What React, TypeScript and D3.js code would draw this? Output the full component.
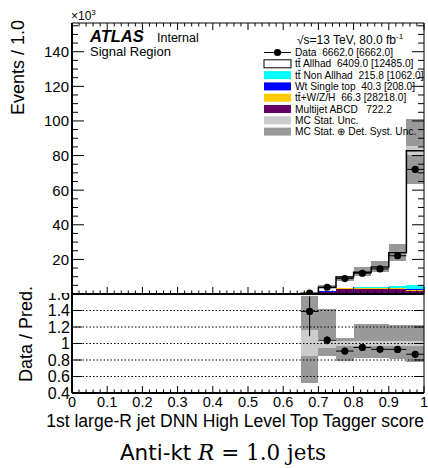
import React from "react"
import * as d3 from "d3"

// bin lower edges (width 0.05), values in units of 10^3 events
const binLow = [0, 0.05, 0.1, 0.15, 0.2, 0.25, 0.3, 0.35, 0.4, 0.45, 0.5, 0.55, 0.6, 0.65, 0.7, 0.75, 0.8, 0.85, 0.9, 0.95]
const binWidth = 0.05

const multijet = [0, 0, 0, 0, 0, 0, 0, 0, 0, 0, 0, 0, 0, 0.1, 1.3, 3.0, 3.1, 3.0, 2.9, 1.6]
const ttV = [0, 0, 0, 0, 0, 0, 0, 0, 0, 0, 0, 0, 0, 0, 0.1, 0.2, 0.3, 0.3, 0.4, 1.0]
const wtSingleTop = [0, 0, 0, 0, 0, 0, 0, 0, 0, 0, 0, 0, 0, 0, 0.05, 0.1, 0.1, 0.15, 0.2, 0.3]
const ttNonAllhad = [0, 0, 0, 0, 0, 0, 0, 0, 0, 0, 0, 0, 0, 0, 0.1, 0.2, 0.3, 0.4, 0.9, 2.2]
const ttAllhad = [0, 0, 0, 0, 0, 0, 0, 0, 0, 0, 0, 0, 0, 0.26, 2.2, 6.3, 8.8, 11.75, 19.4, 77.7]
const data = [0, 0, 0, 0, 0, 0, 0, 0, 0, 0, 0, 0, 0, 0.5, 3.9, 8.9, 12.0, 14.5, 22.1, 72.0]

// relative uncertainties
const systUp = [0, 0, 0, 0, 0, 0, 0, 0, 0, 0, 0, 0, 0, 0.58, 0.42, 0.07, 0.24, 0.24, 0.22, 0.22]
const systDn = [0, 0, 0, 0, 0, 0, 0, 0, 0, 0, 0, 0, 0, 0.48, 0.15, 0.21, 0.17, 0.17, 0.19, 0.23]
const statUp = [0, 0, 0, 0, 0, 0, 0, 0, 0, 0, 0, 0, 0, 0.16, 0.06, 0.03, 0.03, 0.03, 0.03, 0.03]
const statDn = [0, 0, 0, 0, 0, 0, 0, 0, 0, 0, 0, 0, 0, 0.15, 0.06, 0.03, 0.03, 0.03, 0.03, 0.03]
// data error on the ratio
const ratioErrUp = [0, 0, 0, 0, 0, 0, 0, 0, 0, 0, 0, 0, 0, 0.18, 0.05, 0.04, 0.04, 0.04, 0.04, 0.04]
const ratioErrDn = [0, 0, 0, 0, 0, 0, 0, 0, 0, 0, 0, 0, 0, 0.30, 0.05, 0.04, 0.04, 0.04, 0.04, 0.04]

const mainTicks = [20, 40, 60, 80, 100, 120, 140]
const ratioTicks = [0.4, 0.6, 0.8, 1, 1.2, 1.4, 1.6]
const ratioGrid = [0.6, 0.8, 1, 1.2, 1.4]
const xTicks = [0, 0.1, 0.2, 0.3, 0.4, 0.5, 0.6, 0.7, 0.8, 0.9, 1]

const legendRows = [
  { label: "Data  6662.0 [6662.0]", kind: "data" },
  { label: "tt\u0304 Allhad  6409.0 [12485.0]", kind: "box", fill: "#ffffff" },
  { label: "tt\u0304 Non Allhad  215.8 [1062.0]", kind: "fill", fill: "#00ffff" },
  { label: "Wt Single top  40.3 [208.0]", kind: "fill", fill: "#0000ff" },
  { label: "tt\u0304+W/Z/H  66.3 [28218.0]", kind: "fill", fill: "#ffcc00" },
  { label: "Multijet ABCD   722.2", kind: "fill", fill: "#660066" },
  { label: "MC Stat. Unc.", kind: "fill", fill: "#cccccc" },
  { label: "MC Stat. \u2295 Det. Syst. Unc.", kind: "fill", fill: "#999999" },
]

const FONT = "'Liberation Sans', Arial, Helvetica, sans-serif"

export default function App() {
  const W = 428
  const H = 468
  const x = d3.scaleLinear().domain([0, 1]).range([72, 424])
  const y = d3.scaleLinear().domain([0, 156.6]).range([294, 23])
  const yr = d3.scaleLinear().domain([0.4, 1.6]).range([393, 294])

  const keys = ["multijet", "ttV", "wt", "nonAllhad", "allhad"]
  const colors: Record<string, string> = {
    multijet: "#660066", ttV: "#ffcc00", wt: "#0000ff", nonAllhad: "#00ffff", allhad: "#ffffff",
  }
  const rows = binLow.map((lo, i) => ({
    lo, multijet: multijet[i], ttV: ttV[i], wt: wtSingleTop[i], nonAllhad: ttNonAllhad[i], allhad: ttAllhad[i],
  }))
  const stacked = d3.stack<any>().keys(keys)(rows)
  const total = rows.map(r => keys.reduce((s, k) => s + (r as any)[k], 0))

  const stepPts: [number, number][] = binLow.map((lo, i) => [lo, total[i]])
  stepPts.push([1, total[total.length - 1]])
  const stepLine = d3.line<[number, number]>()
    .x(d => x(d[0]))
    .y(d => y(d[1]))
    .curve(d3.curveStepAfter)

  const bw = x(binWidth) - x(0)
  const minorX = d3.range(0, 1.0001, 0.02)
  const minorY = d3.range(0, 156, 5)
  const filled = binLow.map((_, i) => i).filter(i => total[i] > 0)
  const dataIdx = binLow.map((_, i) => i).filter(i => data[i] > 0)

  return (
    <div style={{ position: "fixed", left: 0, top: 0 }}>
      <svg width={W} height={H} style={{ display: "block", background: "#fff" }} fontFamily={FONT}>
        <defs>
          <clipPath id="mainClip"><rect x={72} y={23} width={352} height={271} /></clipPath>
          <clipPath id="ratioClip"><rect x={72} y={294} width={352} height={99} /></clipPath>
          <clipPath id="lowLabelClip"><rect x={0} y={293} width={72} height={120} /></clipPath>
        </defs>

        {/* ---------- main panel ---------- */}
        <g clipPath="url(#mainClip)">
          {stacked.map(layer => (
            <g key={layer.key} fill={colors[layer.key]}>
              {layer.map((d, i) => d[1] - d[0] > 0 ? (
                <rect key={i} x={x(binLow[i])} width={bw} y={y(d[1])} height={y(d[0]) - y(d[1])} shapeRendering="crispEdges" />
              ) : null)}
            </g>
          ))}
          {filled.map(i => (
            <rect key={"s" + i} x={x(binLow[i])} width={bw} y={y(total[i] * (1 + systUp[i]))}
              height={y(total[i] * (1 - systDn[i])) - y(total[i] * (1 + systUp[i]))} fill="#999999" shapeRendering="crispEdges" />
          ))}
          {filled.map(i => (
            <rect key={"t" + i} x={x(binLow[i])} width={bw} y={y(total[i] * (1 + statUp[i]))}
              height={y(total[i] * (1 - statDn[i])) - y(total[i] * (1 + statUp[i]))} fill="#cccccc" shapeRendering="crispEdges" />
          ))}
          <path d={stepLine(stepPts) || ""} fill="none" stroke="#000" strokeWidth={1.5} />
          {dataIdx.map(i => (
            <g key={"d" + i}>
              <line x1={x(binLow[i])} x2={x(binLow[i] + binWidth)} y1={y(data[i])} y2={y(data[i])} stroke="#000" strokeWidth={1} />
              <circle cx={x(binLow[i] + binWidth / 2)} cy={y(data[i])} r={3.6} fill="#000" />
            </g>
          ))}
        </g>

        {/* main axes */}
        <g stroke="#000">
          <line x1={72} x2={424} y1={23} y2={23} strokeWidth={1} />
          <line x1={424} x2={424} y1={23} y2={294} strokeWidth={1} />
          <line x1={72} x2={72} y1={23} y2={294} strokeWidth={2} />
          <line x1={72} x2={424} y1={294} y2={294} strokeWidth={2} />
          {minorY.map(v => {
            const major = v % 20 === 0
            const len = major ? 12 : 6
            return (
              <g key={"yt" + v}>
                <line x1={72} x2={72 + len} y1={y(v)} y2={y(v)} strokeWidth={1} />
                <line x1={424} x2={424 - len} y1={y(v)} y2={y(v)} strokeWidth={1} />
              </g>
            )
          })}
          {minorX.map((v, j) => {
            const len = j % 5 === 0 ? 7 : 3.5
            return (
              <g key={"xt" + j}>
                <line x1={x(v)} x2={x(v)} y1={23} y2={23 + len} strokeWidth={1} />
                <line x1={x(v)} x2={x(v)} y1={294} y2={294 - len} strokeWidth={1} />
              </g>
            )
          })}
        </g>
        <g fontSize={15} textAnchor="end">
          {mainTicks.map(v => (
            <text key={v} x={69} y={y(v)} dy="0.36em">{v}</text>
          ))}
        </g>
        <text x={71} y={20} fontSize={12}>×10<tspan fontSize={8} dy={-5}>3</tspan></text>
        <text transform="translate(24,20) rotate(-90)" textAnchor="end" fontSize={18}>Events / 1.0</text>

        {/* labels */}
        <text x={90} y={42} fontSize={16.5} fontWeight="bold" fontStyle="italic">ATLAS</text>
        <text x={157} y={42} fontSize={12.5}>Internal</text>
        <text x={90} y={56} fontSize={13}>Signal Region</text>

        {/* legend */}
        <text x={297} y={44} fontSize={12}>√s=13 TeV, 80.0 fb<tspan fontSize={8} dy={-5}>-1</tspan></text>
        {legendRows.map((r, i) => {
          const cy = 52.5 + i * 11.3
          return (
            <g key={r.label}>
              {r.kind === "data" ? (
                <g>
                  <line x1={264} x2={291} y1={cy} y2={cy} stroke="#000" strokeWidth={1} />
                  <circle cx={277.5} cy={cy} r={3.6} fill="#000" />
                </g>
              ) : (
                <rect x={264} y={cy - 4} width={27} height={8} fill={r.fill}
                  stroke={r.kind === "box" ? "#000" : "none"} strokeWidth={1} />
              )}
              <text x={295} y={cy} dy="0.36em" fontSize={10.2} style={{ whiteSpace: "pre" }}>{r.label}</text>
            </g>
          )
        })}

        {/* ---------- ratio panel ---------- */}
        <g clipPath="url(#ratioClip)">
          {filled.map(i => (
            <rect key={"rs" + i} x={x(binLow[i])} width={bw} y={yr(1 + systUp[i])}
              height={yr(1 - systDn[i]) - yr(1 + systUp[i])} fill="#999999" shapeRendering="crispEdges" />
          ))}
          {filled.map(i => (
            <rect key={"rt" + i} x={x(binLow[i])} width={bw} y={yr(1 + statUp[i])}
              height={yr(1 - statDn[i]) - yr(1 + statUp[i])} fill="#cccccc" shapeRendering="crispEdges" />
          ))}
          {ratioGrid.map(v => (
            <line key={"g" + v} x1={72} x2={424} y1={yr(v)} y2={yr(v)} stroke="#000"
              strokeWidth={v === 1 ? 1.2 : 1} strokeDasharray="1.5,2" />
          ))}
          {dataIdx.map(i => {
            const r = data[i] / total[i]
            const cx = x(binLow[i] + binWidth / 2)
            return (
              <g key={"rd" + i} stroke="#000">
                <line x1={x(binLow[i])} x2={x(binLow[i] + binWidth)} y1={yr(r)} y2={yr(r)} strokeWidth={1} />
                <line x1={cx} x2={cx} y1={yr(r + ratioErrUp[i])} y2={yr(r - ratioErrDn[i])} strokeWidth={1} />
                <circle cx={cx} cy={yr(r)} r={3.6} fill="#000" stroke="none" />
              </g>
            )
          })}
        </g>
        <g stroke="#000">
          <line x1={72} x2={72} y1={294} y2={393} strokeWidth={2} />
          <line x1={424} x2={424} y1={294} y2={393} strokeWidth={1} />
          <line x1={72} x2={424} y1={393} y2={393} strokeWidth={2} />
          {ratioTicks.map(v => (
            <g key={"rt" + v}>
              <line x1={72} x2={82} y1={yr(v)} y2={yr(v)} strokeWidth={1} />
              <line x1={424} x2={414} y1={yr(v)} y2={yr(v)} strokeWidth={1} />
            </g>
          ))}
          {minorX.map((v, j) => (
            <line key={"rx" + j} x1={x(v)} x2={x(v)} y1={393} y2={393 - (j % 5 === 0 ? 7 : 3.5)} strokeWidth={1} />
          ))}
        </g>
        <g fontSize={16} textAnchor="end" clipPath="url(#lowLabelClip)">
          {ratioTicks.map(v => (
            <text key={v} x={70} y={yr(v)} dy="0.36em">{v}</text>
          ))}
        </g>
        <text transform="translate(32,334) rotate(-90)" textAnchor="middle" fontSize={18}>Data / Pred.</text>
        <g fontSize={14.5} textAnchor="middle">
          {xTicks.map(v => (
            <text key={v} x={x(v)} y={407}>{v}</text>
          ))}
        </g>
        <text x={424} y={427} fontSize={17.5} textAnchor="end">1st large-R jet DNN High Level Top Tagger score</text>
        <text x={223} y={460} fontSize={21.5} textAnchor="middle" style={{ whiteSpace: "pre" }}>
          <tspan fontFamily="'DejaVu Sans', sans-serif">Anti-kt </tspan><tspan fontFamily="'DejaVu Serif', serif" fontStyle="italic">R</tspan><tspan fontFamily="'DejaVu Serif', serif"> = 1.0 jets</tspan>
        </text>
      </svg>
    </div>
  )
}
